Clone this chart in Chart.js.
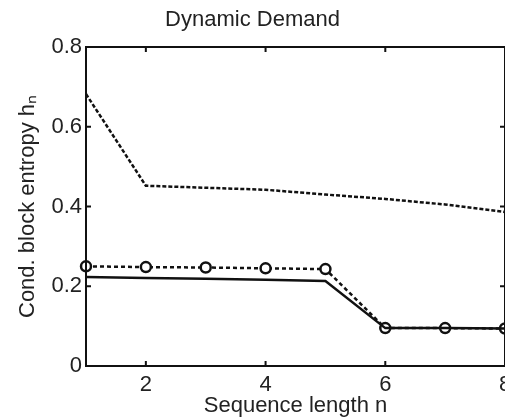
<!DOCTYPE html>
<html>
<head>
<meta charset="utf-8">
<script src="https://cdn.jsdelivr.net/npm/chart.js@4/dist/chart.umd.min.js"></script>
<style>
  html, body { margin: 0; padding: 0; background: #fff; overflow: hidden; }
  canvas { display: block; }
</style>
</head>
<body>
<canvas id="entropyChart" width="530" height="419"></canvas>
<script>
// sequence length n
var seqLength = [1, 2, 3, 4, 5, 6, 7, 8];
// upper dotted curve
var topCurve = [0.682, 0.452, 0.447, 0.442, 0.43, 0.419, 0.405, 0.386];
// dashed curve with circle markers
var circleCurve = [0.25, 0.248, 0.247, 0.245, 0.243, 0.095, 0.095, 0.094];
// solid curve
var solidCurve = [0.223, 0.221, 0.219, 0.216, 0.213, 0.095, 0.095, 0.094];

var xTicks = [2, 4, 6, 8];
var yTicks = [0, 0.2, 0.4, 0.6, 0.8];

function toPoints(ys) {
    return seqLength.map(function(x, i) { return { x: x, y: ys[i] }; });
}

Chart.defaults.font.family = 'Liberation Sans, Arial, sans-serif';
Chart.defaults.color = '#222';

// box around the plot with inward tick marks (matlab style)
var frameBox = {
    id: 'frameBox',
    afterDatasetsDraw: function(chart) {
        var ctx = chart.ctx;
        var a = chart.chartArea;
        var xs = chart.scales.x, ys = chart.scales.y;
        var len = 5;
        ctx.save();
        ctx.strokeStyle = '#111';
        ctx.lineWidth = 2;
        ctx.strokeRect(a.left, a.top, a.right - a.left, a.bottom - a.top);
        ctx.beginPath();
        xTicks.forEach(function(t) {
            var px = xs.getPixelForValue(t);
            ctx.moveTo(px, a.bottom); ctx.lineTo(px, a.bottom - len);
            ctx.moveTo(px, a.top); ctx.lineTo(px, a.top + len);
        });
        yTicks.forEach(function(t) {
            var py = ys.getPixelForValue(t);
            ctx.moveTo(a.left, py); ctx.lineTo(a.left + len, py);
            ctx.moveTo(a.right, py); ctx.lineTo(a.right - len, py);
        });
        ctx.stroke();
        ctx.restore();
    }
};

var ctx = document.getElementById('entropyChart').getContext('2d');
var chart = new Chart(ctx, {
    type: 'line',
    data: {
        datasets: [{
            data: toPoints(topCurve),
            borderColor: '#111',
            borderWidth: 2.5,
            borderDash: [4, 2],
            pointRadius: 0,
            tension: 0,
            clip: false
        }, {
            data: toPoints(solidCurve),
            borderColor: '#111',
            borderWidth: 2.5,
            pointRadius: 0,
            tension: 0,
            clip: false
        }, {
            data: toPoints(circleCurve),
            borderColor: '#111',
            borderWidth: 2.5,
            borderDash: [4, 3],
            pointRadius: 5,
            pointBorderWidth: 2.5,
            pointBorderColor: '#111',
            pointBackgroundColor: '#fff',
            tension: 0,
            clip: false
        }]
    },
    options: {
        responsive: false,
        animation: false,
        layout: { padding: { left: 0, right: 25, top: 0, bottom: 0 } },
        plugins: {
            legend: { display: false },
            tooltip: { enabled: false },
            title: {
                display: true,
                text: 'Dynamic Demand',
                font: { size: 22, weight: 'normal' },
                color: '#222',
                padding: { top: 7, bottom: 13.6 }
            }
        },
        scales: {
            x: {
                type: 'linear',
                min: 1,
                max: 8,
                grid: { display: false, drawTicks: false },
                border: { display: false },
                afterBuildTicks: function(scale) {
                    scale.ticks = xTicks.map(function(v) { return { value: v }; });
                },
                afterFit: function(scale) { scale.height = 53; },
                ticks: { font: { size: 22 }, padding: 6, maxRotation: 0 },
                title: {
                    display: true,
                    text: 'Sequence length n',
                    font: { size: 22 },
                    padding: { top: 0, bottom: 0 }
                }
            },
            y: {
                min: 0,
                max: 0.8,
                grid: { display: false, drawTicks: false },
                border: { display: false },
                afterBuildTicks: function(scale) {
                    scale.ticks = yTicks.map(function(v) { return { value: v }; });
                },
                afterFit: function(scale) { scale.width = 86; },
                ticks: {
                    font: { size: 22 },
                    padding: 4,
                    callback: function(v) { return v === 0 ? '0' : v.toFixed(1); }
                },
                title: {
                    display: true,
                    text: 'Cond. block entropy h\u2099',
                    font: { size: 22 },
                    padding: { top: 15, bottom: 0 }
                }
            }
        }
    },
    plugins: [frameBox]
});
</script>
</body>
</html>
